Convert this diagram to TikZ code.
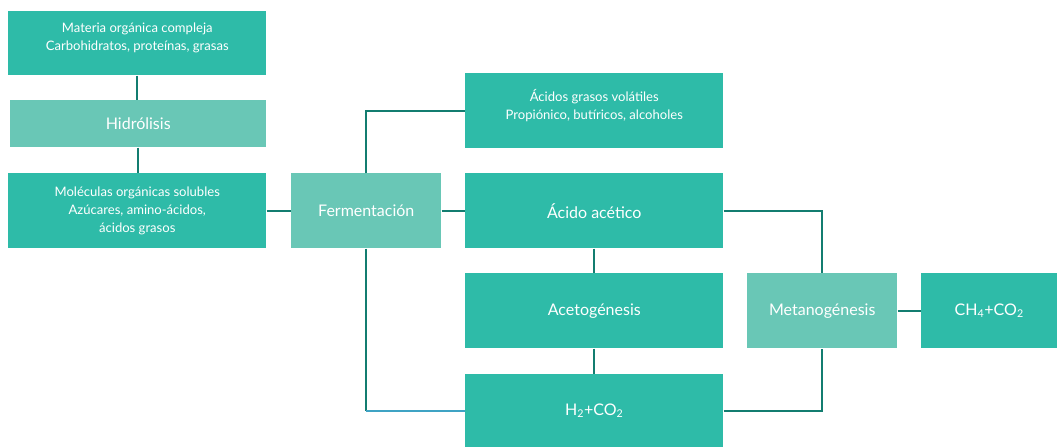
\documentclass[tikz,border=0pt]{standalone}
\usepackage{fontspec}
\setmainfont{Lato}
\usetikzlibrary{calc}
\definecolor{boxteal}{HTML}{2EBBA8}
\definecolor{stageteal}{HTML}{69C7B6}
\definecolor{linkteal}{HTML}{137D70}
\definecolor{linkblue}{HTML}{3FA3C4}
\tikzset{
  box/.style={fill=boxteal, text=white, inner sep=0pt, align=center, anchor=north west,
    font=\fontsize{9.8}{13.5}\selectfont},
  bigbox/.style={box, font=\fontsize{12}{14}\selectfont},
  stage/.style={bigbox, fill=stageteal},
  link/.style={draw=linkteal, line width=1.6pt},
  bluelink/.style={draw=linkblue, line width=1.6pt},
}

\begin{document}
\begin{tikzpicture}[x=0.75pt, y=-0.75pt]
  \useasboundingbox (0,0) rectangle (1057,447);

  % left column
  \node[box, minimum width={258*0.75pt}, minimum height={64*0.75pt}] (mat) at (8,11)
    {Materia orgánica compleja\\Carbohidratos, proteínas, grasas\\[-4pt]~};
  \node[stage, minimum width={256*0.75pt}, minimum height={47*0.75pt}] (hid) at (10,100) {Hidrólisis};
  \node[box, minimum width={258*0.75pt}, minimum height={75*0.75pt}] (mol) at (8,173)
    {Moléculas orgánicas solubles\\Azúcares, amino-ácidos,\\ácidos grasos};

  \node[stage, minimum width={150*0.75pt}, minimum height={75*0.75pt}] (fer) at (291,173) {Fermentación};

  % middle column
  \node[box, minimum width={258*0.75pt}, minimum height={75*0.75pt}] (agv) at (465,73)
    {Ácidos grasos volátiles\\Propiónico, butíricos, alcoholes\\[-4pt]~};
  \node[bigbox, minimum width={258*0.75pt}, minimum height={75*0.75pt}] (ace) at (465,173) {Ácido acético};
  \node[bigbox, minimum width={258*0.75pt}, minimum height={75*0.75pt}] (acg) at (465,273) {Acetogénesis};
  \node[bigbox, minimum width={258*0.75pt}, minimum height={73*0.75pt}] (hco) at (465,374)
    {H\textsubscript{2}+CO\textsubscript{2}};

  % right column
  \node[stage, minimum width={150*0.75pt}, minimum height={75*0.75pt}] (met) at (747,273) {Metanogénesis};
  \node[bigbox, minimum width={136*0.75pt}, minimum height={75*0.75pt}] (ch4) at (921,273)
    {CH\textsubscript{4}+CO\textsubscript{2}};

  % connectors
  \draw[link] (mat.south) -- (mat.south |- hid.north);
  \draw[link] (hid.south) -- (hid.south |- mol.north);
  \draw[link] (mol) -- (fer);
  \draw[link] (fer) -- (ace);
  \draw[link] (fer.north) |- (agv.west);
  \coordinate (ferlow) at (fer.south |- hco.west);
  \draw[link] (fer.south) -- (ferlow);
  \draw[bluelink] (ferlow) -- (hco.west);
  \draw[link] (ace) -- (acg);
  \draw[link] (acg) -- (hco);
  \draw[link] (ace.east) -| (met.north);
  \draw[link] (hco.east) -| (met.south);
  \draw[link] (met) -- (ch4);
\end{tikzpicture}
\end{document}
